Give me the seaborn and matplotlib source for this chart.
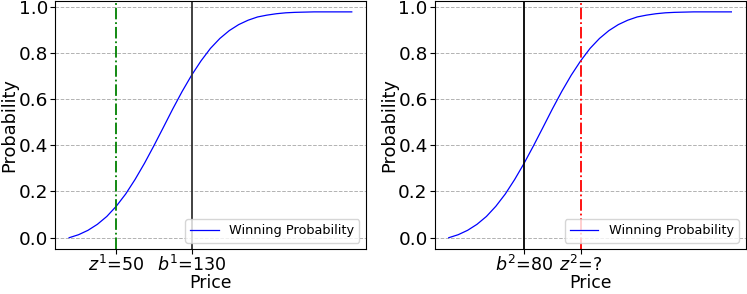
import numpy as np
import pandas as pd
import seaborn as sns
import matplotlib.pyplot as plt

# price grid and winning probability
price = [0, 10, 20, 30, 40, 50, 60, 70, 80, 90, 100, 110, 120, 130, 140, 150,
         160, 170, 180, 190, 200, 210, 220, 230, 240, 250, 260, 270, 280, 290, 300]
win_prob = [0.000, 0.013, 0.032, 0.058, 0.092, 0.136, 0.189, 0.252, 0.322, 0.398,
            0.477, 0.557, 0.633, 0.703, 0.765, 0.819, 0.862, 0.896, 0.922, 0.941,
            0.955, 0.963, 0.969, 0.973, 0.975, 0.976, 0.977, 0.977, 0.977, 0.977, 0.977]

left_ticks = [50, 130]
left_labels = ["$z^1$=50", "$b^1$=130"]
right_ticks = [80, 140]
right_labels = ["$b^2$=80", "$z^2$=?"]

df = pd.DataFrame({"Price": price, "Probability": win_prob})

fig, axes = plt.subplots(1, 2, figsize=(7.47, 2.94), dpi=100)
plt.subplots_adjust(left=0.0736, right=0.998, bottom=0.153, top=0.998, wspace=0.221)

panels = [
    (axes[0], left_ticks, left_labels, [("g", "-."), ("#333333", "-")]),
    (axes[1], right_ticks, right_labels, [("k", "-"), ("r", "-.")]),
]

for ax, ticks, labels, vstyles in panels:
    sns.lineplot(data=df, x="Price", y="Probability", color="blue", linewidth=0.9,
                 label="Winning Probability", ax=ax)
    for t, (c, ls) in zip(ticks, vstyles):
        ax.axvline(t, color=c, linestyle=ls, linewidth=1.3)
    ax.set_xticks(ticks)
    ax.set_xticklabels(labels)
    ax.set_yticks([0.0, 0.2, 0.4, 0.6, 0.8, 1.0])
    ax.grid(axis="y", linestyle="--", color="gray", alpha=0.6, linewidth=0.7)
    ax.tick_params(axis="y", labelsize=13.3, pad=1.5)
    ax.tick_params(axis="x", labelsize=12.6, pad=0.5)
    ax.set_xlabel("Price", fontsize=12.4)
    ax.xaxis.set_label_coords(0.5, -0.099)
    ax.set_ylabel("Probability", fontsize=12.8, labelpad=0)
    ax.legend(loc="lower right", fontsize=9.3, handlelength=2.2)

plt.savefig("out.png", dpi=100)
